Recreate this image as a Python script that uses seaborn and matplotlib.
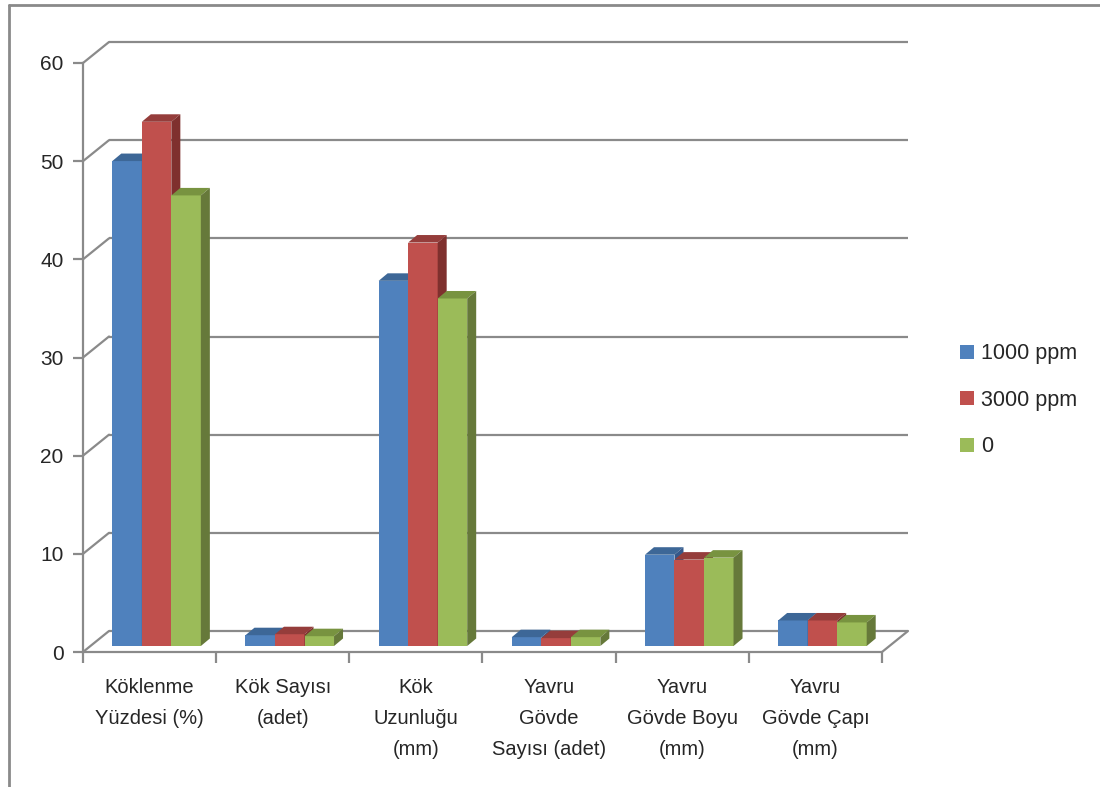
import pandas as pd
import matplotlib.pyplot as plt
import matplotlib.colors as mcolors
import seaborn as sns
from matplotlib.patches import Polygon, Patch
from matplotlib.lines import Line2D

# kategori ve seri verileri
kategoriler = ["Köklenme\nYüzdesi (%)", "Kök Sayısı\n(adet)", "Kök\nUzunluğu\n(mm)",
               "Yavru\nGövde\nSayısı (adet)", "Yavru\nGövde Boyu\n(mm)", "Yavru\nGövde Çapı\n(mm)"]
seriler = ["1000 ppm", "3000 ppm", "0"]
deger_1000 = [49.4, 1.1, 37.2, 0.9, 9.3, 2.6]
deger_3000 = [53.4, 1.2, 41.1, 0.8, 8.8, 2.6]
deger_0 = [45.9, 1.0, 35.4, 0.9, 9.0, 2.4]
y_ticks = [0, 10, 20, 30, 40, 50, 60]

renkler = ["#4F81BD", "#C0504D", "#9BBB59"]
ust_renk = ["#3D6797", "#953D3B", "#789340"]
yan_renk = ["#35588A", "#7F302E", "#66793A"]
gri = "#8a8a8a"

df = pd.DataFrame({
    "kategori": kategoriler * 3,
    "seri": [s for s in seriler for _ in kategoriler],
    "deger": deger_1000 + deger_3000 + deger_0,
})

sns.set_style("white")
plt.rcParams["font.family"] = ["Liberation Sans Narrow", "Liberation Sans", "DejaVu Sans"]

fig = plt.figure(figsize=(11, 7.87), dpi=100)
ax = fig.add_axes([83 / 1100, (787 - 652) / 787, (882 - 83) / 1100, (652 - 63) / 787])

sns.barplot(data=df, x="kategori", y="deger", hue="seri", order=kategoriler, hue_order=seriler,
            palette=renkler, saturation=1, width=0.665, gap=0, legend=False, ax=ax)

ax.set_xlim(-0.5, len(kategoriler) - 0.5)
ax.set_ylim(0, 60)

# piksel -> veri donusumu (3B etkisi icin)
bb = ax.get_window_extent()
sx = len(kategoriler) / bb.width
sy = 60 / bb.height
derin_x, derin_y = 26 * sx, 21 * sy      # arka duvar kaymasi
on_x, on_y = 7 * sx, 6 * sy              # cubuk on yuzu kaymasi
bar_x, bar_y = 9 * sx, 7.5 * sy          # cubuk derinligi

# arka duvar izgara cizgileri
x0, x1 = ax.get_xlim()
for v in y_ticks:
    ax.plot([x0 + derin_x, x1 + derin_x], [v + derin_y, v + derin_y], color=gri, lw=1.6,
            clip_on=False, zorder=1, solid_capstyle="butt")
    ax.plot([x0, x0 + derin_x], [v, v + derin_y], color=gri, lw=1.6, clip_on=False, zorder=1)
ax.plot([x1, x1 + derin_x], [0, derin_y], color=gri, lw=1.6, clip_on=False, zorder=1)
ax.plot([x0, x1], [0, 0], color=gri, lw=1.6, clip_on=False, zorder=1)

# cubuklara ust ve yan yuz ekle
rgba_list = [tuple(round(c, 3) for c in mcolors.to_rgba(r)) for r in renkler]
cubuklar = sorted(ax.patches, key=lambda p: p.get_x())
for i, p in enumerate(cubuklar):
    j = rgba_list.index(tuple(round(c, 3) for c in p.get_facecolor()))
    x = p.get_x() + on_x
    w = p.get_width()
    h = p.get_height()
    p.set_x(x)
    p.set_y(on_y)
    p.set_linewidth(0)
    p.set_zorder(3 + i * 0.01)
    alt = on_y
    ust = on_y + h
    ax.add_patch(Polygon([(x, ust), (x + w, ust), (x + w + bar_x, ust + bar_y), (x + bar_x, ust + bar_y)],
                         closed=True, facecolor=ust_renk[j], lw=0, zorder=3 + i * 0.01, clip_on=False))
    ax.add_patch(Polygon([(x + w, alt), (x + w, ust), (x + w + bar_x, ust + bar_y), (x + w + bar_x, alt + bar_y)],
                         closed=True, facecolor=yan_renk[j], lw=0, zorder=3 + i * 0.01, clip_on=False))

# eksenler
for s in ["top", "right", "bottom"]:
    ax.spines[s].set_visible(False)
ax.spines["left"].set_color(gri)
ax.spines["left"].set_linewidth(1.6)
ax.set_yticks(y_ticks)
ax.tick_params(axis="y", length=7, width=1.6, color=gri, pad=7, labelsize=15, left=True)
ax.set_xticks(range(len(kategoriler)))
ax.set_xticklabels(kategoriler, fontsize=14.5, va="top")
for t in ax.get_xticklabels():
    t.set_linespacing(1.8)
ax.set_xticks([k - 0.5 for k in range(len(kategoriler) + 1)], minor=True)
ax.tick_params(axis="x", which="major", length=0, pad=19)
ax.tick_params(axis="x", which="minor", length=8, width=1.6, color=gri, bottom=True)
ax.set_xlabel("")
ax.set_ylabel("")
ax.grid(False)

# gosterge
tutamac = [Patch(facecolor=r, edgecolor="none") for r in renkler]
fig.legend(tutamac, seriler, loc="upper left", bbox_to_anchor=(941 / 1100, 1 - 324 / 787),
           frameon=False, fontsize=15.5, handlelength=0.62, handleheight=0.62, handletextpad=0.35,
           labelspacing=1.18)

# dis cerceve
fig.add_artist(Line2D([9 / 1100, 1], [1 - 5 / 787, 1 - 5 / 787], color=gri, lw=2))
fig.add_artist(Line2D([9 / 1100, 9 / 1100], [0, 1 - 5 / 787], color=gri, lw=2))

fig.savefig("out.png", dpi=100)
